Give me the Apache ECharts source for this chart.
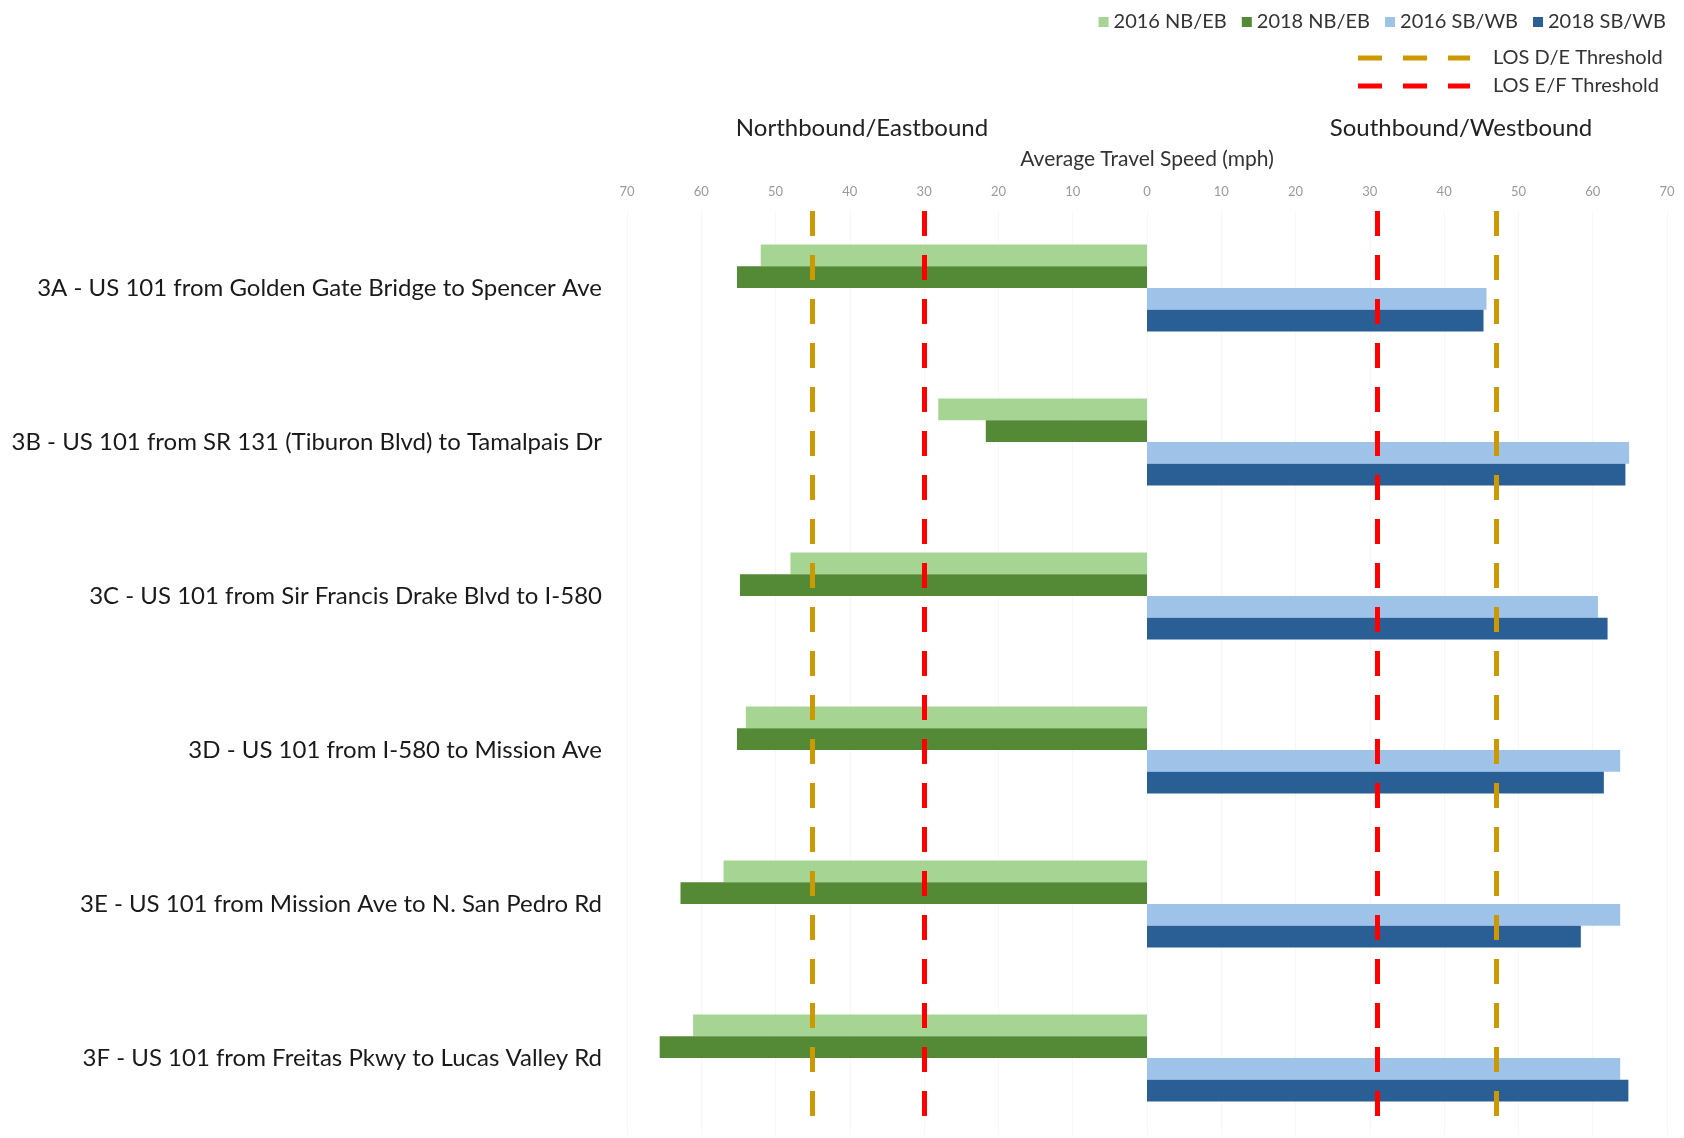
<!DOCTYPE html>
<html>
<head>
<meta charset="utf-8">
<script src="https://cdn.jsdelivr.net/npm/echarts@6/dist/echarts.min.js"></script>
<style>
  html, body { margin: 0; padding: 0; background: #fff; }
  #chart { width: 1684px; height: 1138px; }
</style>
</head>
<body>
<div id="chart"></div>
<script>
// Corridor segments (top to bottom)
const segments = [
  '3A - US 101 from Golden Gate Bridge to Spencer Ave',
  '3B - US 101 from SR 131 (Tiburon Blvd) to Tamalpais Dr',
  '3C - US 101 from Sir Francis Drake Blvd to I-580',
  '3D - US 101 from I-580 to Mission Ave',
  '3E - US 101 from Mission Ave to N. San Pedro Rd',
  '3F - US 101 from Freitas Pkwy to Lucas Valley Rd'
];

// Average travel speeds (mph)
const nb2016 = [52.0, 28.1, 48.0, 54.0, 57.0, 61.1];
const nb2018 = [55.2, 21.7, 54.8, 55.2, 62.8, 65.6];
const sb2016 = [45.7, 64.9, 60.7, 63.7, 63.7, 63.7];
const sb2018 = [45.3, 64.4, 62.0, 61.5, 58.4, 64.8];

// LOS thresholds (mph): [northbound/eastbound side, southbound/westbound side]
const losDE = [45, 47];
const losEF = [30, 31];

// Axis ticks
const speedMax = 70;
const speedStep = 10;

const seriesNames = ['2016 NB/EB', '2018 NB/EB', '2016 SB/WB', '2018 SB/WB'];
const seriesColors = ['#a6d593', '#548a35', '#9fc2e8', '#2a5f96'];
const thresholdNames = ['LOS D/E Threshold', 'LOS E/F Threshold'];
const thresholdColors = ['#cc9900', '#ff0000'];

const FONT = 'Lato, "Open Sans", sans-serif';

const neg = arr => arr.map(v => -v);

function barSeries(name, data, color) {
  return {
    name: name,
    type: 'bar',
    data: data,
    barGap: '0%',
    barCategoryGap: '43.5%',
    itemStyle: { color: color },
    emphasis: { disabled: true },
    z: 2
  };
}

function thresholdSeries(name, values, color) {
  return {
    name: name,
    type: 'line',
    data: [],
    color: color,
    itemStyle: { color: color },
    lineStyle: { color: color },
    markLine: {
      silent: true,
      symbol: 'none',
      label: { show: false },
      lineStyle: { color: color, width: 5, type: [25, 19], opacity: 1 },
      data: [{ xAxis: -values[0] }, { xAxis: values[1] }]
    },
    z: 5
  };
}

const chart = echarts.init(document.getElementById('chart'), null, { renderer: 'canvas' });

const dashIcon = 'path://M0,0h24v5h-24z M45,0h24v5h-24z M90,0h22v5h-22z';

chart.setOption({
  backgroundColor: '#ffffff',
  animation: false,
  textStyle: { fontFamily: FONT },
  legend: [
    {
      data: seriesNames,
      right: 13,
      top: 7,
      icon: 'rect',
      itemWidth: 10,
      itemHeight: 10,
      itemGap: 15,
      textStyle: { fontFamily: FONT, fontSize: 20, color: '#333' },
      selectedMode: false
    },
    {
      data: thresholdNames.map(n => ({ name: n, icon: dashIcon })),
      orient: 'vertical',
      left: 1353,
      top: 43,
      itemWidth: 112,
      itemHeight: 5,
      itemGap: 8,
      textStyle: { fontFamily: FONT, fontSize: 20, color: '#333', padding: [0, 0, 0, 18] },
      selectedMode: false
    }
  ],
  graphic: [
    {
      type: 'text', x: 862, y: 128,
      style: { text: 'Northbound/Eastbound', fontFamily: FONT, fontSize: 24, fill: '#222',
               textAlign: 'center', textVerticalAlign: 'middle' }
    },
    {
      type: 'text', x: 1461, y: 128,
      style: { text: 'Southbound/Westbound', fontFamily: FONT, fontSize: 24, fill: '#222',
               textAlign: 'center', textVerticalAlign: 'middle' }
    }
  ],
  grid: { left: 627, right: 17, top: 211, bottom: 3, containLabel: false },
  xAxis: {
    type: 'value',
    position: 'top',
    min: -speedMax,
    max: speedMax,
    interval: speedStep,
    name: 'Average Travel Speed (mph)',
    nameLocation: 'middle',
    nameGap: 41,
    nameTextStyle: { fontFamily: FONT, fontSize: 21, color: '#333' },
    axisLine: { show: false },
    axisTick: { show: false },
    axisLabel: {
      margin: 13,
      fontSize: 13,
      color: '#9a9a9a',
      fontFamily: FONT,
      formatter: v => String(Math.abs(v))
    },
    splitLine: { show: true, lineStyle: { color: '#f7f7f7', width: 1 } }
  },
  yAxis: {
    type: 'category',
    inverse: true,
    data: segments,
    axisLine: { show: false },
    axisTick: { show: false },
    splitLine: { show: false },
    axisLabel: { margin: 25, fontSize: 24, color: '#1a1a1a', fontFamily: FONT }
  },
  series: [
    barSeries(seriesNames[0], neg(nb2016), seriesColors[0]),
    barSeries(seriesNames[1], neg(nb2018), seriesColors[1]),
    barSeries(seriesNames[2], sb2016, seriesColors[2]),
    barSeries(seriesNames[3], sb2018, seriesColors[3]),
    thresholdSeries(thresholdNames[0], losDE, thresholdColors[0]),
    thresholdSeries(thresholdNames[1], losEF, thresholdColors[1])
  ]
});
</script>
</body>
</html>
